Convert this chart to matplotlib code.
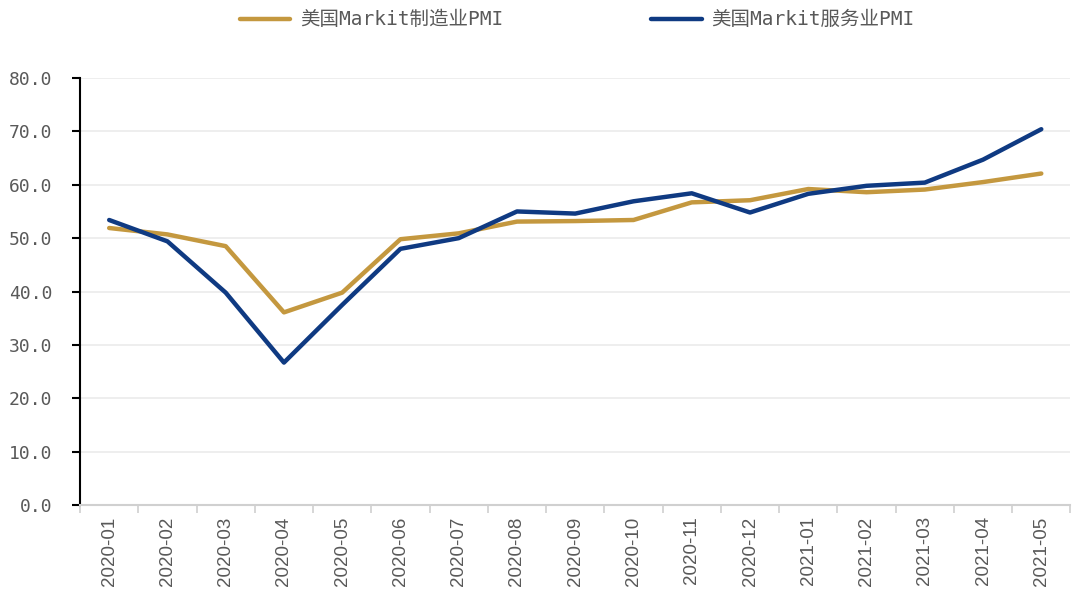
import matplotlib
matplotlib.use("Agg")
import matplotlib.pyplot as plt
import numpy as np

plt.rcParams['font.family'] = ['Noto Sans CJK SC', 'DejaVu Sans']

months = ["2020-01", "2020-02", "2020-03", "2020-04", "2020-05", "2020-06",
          "2020-07", "2020-08", "2020-09", "2020-10", "2020-11", "2020-12",
          "2021-01", "2021-02", "2021-03", "2021-04", "2021-05"]
manufacturing = [51.9, 50.7, 48.5, 36.1, 39.8, 49.8, 50.9, 53.1, 53.2, 53.4,
                 56.7, 57.1, 59.2, 58.6, 59.1, 60.5, 62.1]
services = [53.4, 49.4, 39.8, 26.7, 37.5, 48.0, 50.0, 55.0, 54.6, 56.9,
            58.4, 54.8, 58.3, 59.8, 60.4, 64.7, 70.4]
y_ticks = [0, 10, 20, 30, 40, 50, 60, 70, 80]

gold = "#C4983F"
navy = "#0F3A82"
grey = "#595959"
mono_cjk = ['DejaVu Sans Mono', 'Noto Sans CJK SC']

fig = plt.figure(figsize=(10.73, 5.95), dpi=100)
ax = fig.add_axes([0.0746, 0.151, 0.923, 0.718])

x = np.arange(len(months))
ax.plot(x, manufacturing, color=gold, lw=3.2, solid_capstyle="round",
        label="美国Markit制造业PMI")
ax.plot(x, services, color=navy, lw=3.2, solid_capstyle="round",
        label="美国Markit服务业PMI")

ax.set_xlim(-0.5, len(months) - 0.5)
ax.set_ylim(0, 80)
ax.set_yticks(y_ticks)
ax.set_yticklabels([f"{v:.1f}" for v in y_ticks], color=grey, fontsize=13,
                   family=mono_cjk)
ax.grid(axis="y", color="#EBEBEB", lw=1.2)
ax.set_axisbelow(True)

ax.set_xticks(x)
ax.set_xticklabels(months, rotation=90, color=grey, fontsize=13.5,
                   family=['Liberation Sans', 'DejaVu Sans'])
ax.set_xticks(np.arange(-0.5, len(months)), minor=True)
ax.tick_params(axis="x", which="major", length=0, pad=8)
ax.tick_params(axis="x", which="minor", length=6, color="#D0D0D0", width=1.2)
ax.tick_params(axis="y", length=6, color="black", width=1.5, pad=14)

for s in ["top", "right"]:
    ax.spines[s].set_visible(False)
ax.spines["left"].set_color("black")
ax.spines["left"].set_linewidth(1.5)
ax.spines["bottom"].set_color("#D0D0D0")
ax.spines["bottom"].set_linewidth(1.5)

fig.legend(loc="upper center", bbox_to_anchor=(0.538, 1.012), ncol=2,
           frameon=False, prop={'family': mono_cjk, 'size': 14},
           handlelength=2.6, columnspacing=7.6, handletextpad=0.5,
           labelcolor=grey)

fig.savefig("out.png", dpi=100)
